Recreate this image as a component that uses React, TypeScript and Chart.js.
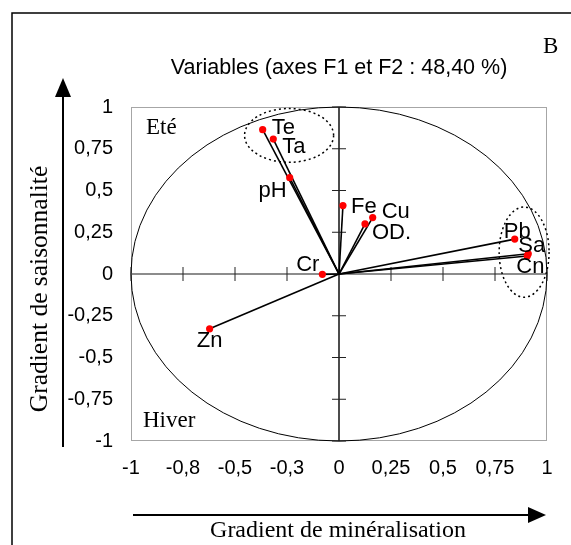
import React, { useEffect, useRef } from 'react';
import { Chart, registerables } from 'chart.js';
Chart.register(...registerables);

// Data
const variables = ['Te', 'Ta', 'pH', 'Fe', 'Cu', 'OD.', 'Cr', 'Zn', 'Pb', 'Sa', 'Cn'];
const f1Values = [-0.367, -0.316, -0.237, 0.019, 0.162, 0.125, -0.08, -0.622, 0.845, 0.91, 0.905];
const f2Values = [0.864, 0.808, 0.577, 0.41, 0.338, 0.3, -0.002, -0.328, 0.209, 0.121, 0.108];
const tickValues = [-1, -0.75, -0.5, -0.25, 0, 0.25, 0.5, 0.75, 1];
const xTickLabels = ['-1', '-0,8', '-0,5', '-0,3', '0', '0,25', '0,5', '0,75', '1'];
const yTickLabels = ['-1', '-0,75', '-0,5', '-0,25', '0', '0,25', '0,5', '0,75', '1'];
// cluster ellipses: centre F1, centre F2, radius F1, radius F2
const clusterCx = [-0.24, 0.89];
const clusterCy = [0.83, 0.131];
const clusterRx = [0.214, 0.12];
const clusterRy = [0.161, 0.27];

// label styling (pixel offsets, alignment)
const labelDx = [9, 9, -3, 8, 9, 7, -3, 0, -11, -10, -11];
const labelDy = [-2, 8, 13, 1, -6, 9, -9, 12, -7, -8, 11];
const labelAlign: CanvasTextAlign[] = ['left', 'left', 'right', 'left', 'left', 'left', 'right', 'center', 'left', 'left', 'left'];

const SANS = 'Arial, "Liberation Sans", sans-serif';
const SERIF = '"Times New Roman", "Liberation Serif", serif';

const pcaPlugin = {
  id: 'pcaDecor',
  beforeDatasetsDraw(chart: any) {
    const { ctx, chartArea, scales } = chart;
    const xs = scales.x;
    const ys = scales.y;
    const px = (v: number) => xs.getPixelForValue(v);
    const py = (v: number) => ys.getPixelForValue(v);
    ctx.save();
    // plot border
    ctx.strokeStyle = '#a6a6a6';
    ctx.lineWidth = 1;
    ctx.strokeRect(chartArea.left + 0.5, chartArea.top + 0.5, chartArea.right - chartArea.left - 1, chartArea.bottom - chartArea.top - 1);
    // unit circle
    ctx.strokeStyle = '#000';
    ctx.lineWidth = 1;
    ctx.beginPath();
    ctx.ellipse(px(0), py(0), px(1) - px(0), py(0) - py(1), 0, 0, Math.PI * 2);
    ctx.stroke();
    // axes
    ctx.lineWidth = 1.5;
    ctx.strokeStyle = '#666';
    ctx.beginPath();
    ctx.moveTo(px(-1), py(0));
    ctx.lineTo(px(1), py(0));
    ctx.stroke();
    ctx.strokeStyle = '#111';
    ctx.beginPath();
    ctx.moveTo(px(0), py(-1));
    ctx.lineTo(px(0), py(1));
    ctx.stroke();
    ctx.lineWidth = 1;
    ctx.strokeStyle = '#222';
    ctx.beginPath();
    tickValues.forEach((t) => {
      if (t === 0) return;
      ctx.moveTo(px(t), py(0) - 7);
      ctx.lineTo(px(t), py(0) + 7);
      ctx.moveTo(px(0) - 7, py(t));
      ctx.lineTo(px(0) + 7, py(t));
    });
    ctx.stroke();
    // dotted cluster ellipses
    ctx.setLineDash([2, 3]);
    ctx.lineWidth = 1.5;
    ctx.strokeStyle = '#000';
    clusterCx.forEach((cx, i) => {
      ctx.beginPath();
      ctx.ellipse(px(cx), py(clusterCy[i]), px(clusterRx[i]) - px(0), py(0) - py(clusterRy[i]), 0, 0, Math.PI * 2);
      ctx.stroke();
    });
    ctx.setLineDash([]);
    // vectors from origin
    ctx.strokeStyle = '#000';
    ctx.lineWidth = 1.6;
    f1Values.forEach((v, i) => {
      ctx.beginPath();
      ctx.moveTo(px(0), py(0));
      ctx.lineTo(px(v), py(f2Values[i]));
      ctx.stroke();
    });
    ctx.restore();
  },
  afterDraw(chart: any) {
    const { ctx, chartArea, scales } = chart;
    const xs = scales.x;
    const ys = scales.y;
    ctx.save();
    ctx.fillStyle = '#000';
    // point labels
    ctx.font = `22px ${SANS}`;
    ctx.textBaseline = 'middle';
    variables.forEach((name, i) => {
      ctx.textAlign = labelAlign[i];
      ctx.fillText(name, xs.getPixelForValue(f1Values[i]) + labelDx[i], ys.getPixelForValue(f2Values[i]) + labelDy[i]);
    });
    // Eté / Hiver
    ctx.font = `23px ${SERIF}`;
    ctx.textAlign = 'left';
    ctx.fillText('Eté', chartArea.left + 15, chartArea.top + 21);
    ctx.fillText('Hiver', chartArea.left + 12, chartArea.bottom - 20);
    // title
    ctx.font = `21.5px ${SANS}`;
    ctx.textAlign = 'center';
    ctx.fillText('Variables (axes F1 et F2 : 48,40 %)', (chartArea.left + chartArea.right) / 2, 68);
    // B
    ctx.font = `23px ${SERIF}`;
    ctx.textAlign = 'left';
    ctx.fillText('B', 543, 47);
    // x axis title + arrow
    ctx.font = `24px ${SERIF}`;
    ctx.textAlign = 'center';
    ctx.fillText('Gradient de minéralisation', 338, 531);
    ctx.strokeStyle = '#000';
    ctx.lineWidth = 2;
    ctx.beginPath();
    ctx.moveTo(133, 515);
    ctx.lineTo(530, 515);
    ctx.stroke();
    ctx.beginPath();
    ctx.moveTo(546, 515);
    ctx.lineTo(528, 507);
    ctx.lineTo(528, 523);
    ctx.closePath();
    ctx.fill();
    // y axis title + arrow
    ctx.save();
    ctx.font = `25.5px ${SERIF}`;
    ctx.translate(40, 289);
    ctx.rotate(-Math.PI / 2);
    ctx.fillText('Gradient de saisonnalité', 0, 0);
    ctx.restore();
    ctx.beginPath();
    ctx.moveTo(63, 447);
    ctx.lineTo(63, 95);
    ctx.stroke();
    ctx.beginPath();
    ctx.moveTo(63, 78);
    ctx.lineTo(55, 97);
    ctx.lineTo(71, 97);
    ctx.closePath();
    ctx.fill();
    // outer frame
    ctx.lineWidth = 1.5;
    ctx.beginPath();
    ctx.moveTo(12, 545);
    ctx.lineTo(12, 13);
    ctx.lineTo(571, 13);
    ctx.stroke();
    ctx.restore();
  },
};

export default function App() {
  const ref = useRef<HTMLCanvasElement>(null);
  useEffect(() => {
    if (!ref.current) return;
    const chart = new Chart(ref.current, {
      type: 'scatter',
      data: {
        datasets: [
          {
            data: f1Values.map((v, i) => ({ x: v, y: f2Values[i] })),
            backgroundColor: '#ff0000',
            borderWidth: 0,
            pointRadius: 3.6,
          },
        ],
      },
      options: {
        animation: false,
        responsive: false,
        devicePixelRatio: 1,
        layout: { padding: { top: 107, right: 24, left: 0, bottom: 0 } },
        plugins: { legend: { display: false }, tooltip: { enabled: false }, title: { display: false } },
        scales: {
          x: {
            type: 'linear',
            min: -1,
            max: 1,
            afterBuildTicks: (s: any) => { s.ticks = tickValues.map((v) => ({ value: v })); },
            afterFit: (s: any) => { s.height = 104; },
            grid: { display: false, drawTicks: false },
            border: { display: false },
            ticks: {
              padding: 15,
              color: '#000',
              font: { family: SANS, size: 20 },
              maxRotation: 0,
              autoSkip: false,
              callback: (v: any) => xTickLabels[tickValues.indexOf(Number(v))] ?? '',
            },
          },
          y: {
            type: 'linear',
            min: -1,
            max: 1,
            afterBuildTicks: (s: any) => { s.ticks = tickValues.map((v) => ({ value: v })); },
            afterFit: (s: any) => { s.width = 131; },
            grid: { display: false, drawTicks: false },
            border: { display: false },
            ticks: {
              padding: 18,
              color: '#000',
              font: { family: SANS, size: 20 },
              autoSkip: false,
              callback: (v: any) => yTickLabels[tickValues.indexOf(Number(v))] ?? '',
            },
          },
        },
      },
      plugins: [pcaPlugin],
    });
    return () => chart.destroy();
  }, []);
  return (
    <div style={{ position: 'absolute', left: 0, top: 0, width: 571, height: 545, background: '#fff' }}>
      <canvas ref={ref} width={571} height={545} style={{ width: 571, height: 545, display: 'block' }} />
    </div>
  );
}
